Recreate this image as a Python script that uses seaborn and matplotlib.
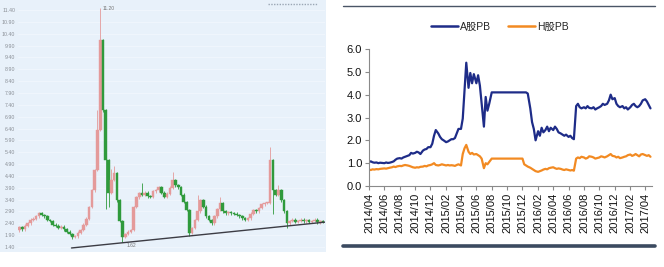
import numpy as np
import pandas as pd
import matplotlib
matplotlib.use("Agg")
import matplotlib.pyplot as plt
from matplotlib.lines import Line2D
from matplotlib.patches import Rectangle
import seaborn as sns

# ---------------- data: left candlestick panel ----------------
closes = [2.24, 2.15, 2.30, 2.40, 2.55, 2.60, 2.70, 2.83,
          2.75, 2.70, 2.54, 2.50, 2.35, 2.30, 2.20,
          2.25, 2.15, 2.05, 1.95, 1.82,
          1.85, 2.00, 2.12, 2.35, 2.60,
          3.09, 3.80, 4.65, 6.34, 10.13,
          7.18, 5.07, 3.68, 4.23, 4.52, 3.38, 2.50, 1.82,
          1.95, 2.05, 2.12, 3.09, 3.50, 3.68,
          3.60, 3.70, 3.55, 3.51, 3.75, 3.80, 3.93,
          3.70, 3.51, 3.65, 3.90, 4.23,
          4.00, 3.93, 3.60, 3.30, 2.96, 1.99,
          2.20, 2.54, 2.90, 3.38,
          3.10, 2.70, 2.54, 2.41,
          2.70, 3.00, 3.26, 2.90, 2.83,
          2.85, 2.83, 2.80, 2.75, 2.70, 2.62, 2.55, 2.62,
          2.80, 2.96, 2.90, 3.05, 3.20, 3.26, 3.26,
          5.07, 3.81, 3.60, 3.81, 3.38, 2.90, 2.41,
          2.50, 2.55, 2.46, 2.50, 2.55, 2.48, 2.52, 2.46, 2.50, 2.55, 2.45, 2.50, 2.46]
first_open = 2.10
wick_hi = {29: 11.49, 28: 7.2, 33: 4.7, 34: 4.8, 44: 4.1, 55: 4.55, 64: 3.6, 72: 3.5, 90: 5.62, 93: 4.0}
wick_lo = {19: 1.72, 31: 3.0, 32: 3.1, 37: 1.60, 61: 1.85, 91: 2.8, 96: 2.20}
left_ticks = [1.40 + 0.5 * k for k in range(21)]
trend_x = [18.7, 109.7]
trend_y = [1.36, 2.45]
peak_label = "11.20"
low_label = "1.62"

# ---------------- data: right PB panel ----------------
months = pd.date_range("2014-04-01", "2017-04-01", freq="MS")
days = [1, 8, 15, 22]
a_pb = [1.05, 1.08, 1.04, 1.02, 1.03, 1.00, 1.02, 1.01, 1.00, 1.03, 1.01, 1.02,
        1.05, 1.08, 1.15, 1.20, 1.22, 1.20, 1.25, 1.28, 1.32, 1.35, 1.45, 1.42,
        1.45, 1.50, 1.47, 1.40, 1.55, 1.60, 1.62, 1.70, 1.70, 1.85, 2.20, 2.45,
        2.30, 2.15, 2.05, 2.00, 1.92, 1.95, 2.00, 2.05, 2.05, 2.10, 2.30, 2.50,
        2.50, 2.95, 4.20, 5.40, 4.30, 4.95, 4.50, 4.90, 4.50, 4.85, 4.40, 3.60,
        2.60, 3.90, 3.30, 3.60, 4.10, 4.10, 4.10, 4.10, 4.10, 4.10, 4.10, 4.10,
        4.10, 4.10, 4.10, 4.10, 4.10, 4.10, 4.10, 4.10, 4.10, 4.10, 4.10, 4.05,
        3.40, 2.80, 2.50, 2.00, 2.40, 2.20, 2.55, 2.35, 2.45, 2.60, 2.40, 2.55,
        2.45, 2.60, 2.50, 2.35, 2.30, 2.25, 2.20, 2.25, 2.15, 2.20, 2.10, 2.05,
        3.50, 3.60, 3.45, 3.40, 3.45, 3.40, 3.50, 3.42, 3.40, 3.45, 3.35, 3.40,
        3.45, 3.50, 3.60, 3.55, 3.60, 3.75, 4.00, 3.80, 3.85, 3.60, 3.50, 3.45,
        3.50, 3.40, 3.45, 3.35, 3.45, 3.55, 3.60, 3.50, 3.45, 3.50, 3.60, 3.75,
        3.80, 3.70, 3.55, 3.40]
h_pb = [0.72, 0.70, 0.73, 0.72, 0.74, 0.73, 0.75, 0.76, 0.77, 0.76, 0.78, 0.80,
        0.82, 0.85, 0.83, 0.86, 0.88, 0.87, 0.90, 0.92, 0.90, 0.88, 0.85, 0.82,
        0.80, 0.82, 0.81, 0.84, 0.85, 0.88, 0.86, 0.90, 0.92, 0.95, 1.00, 0.92,
        0.90, 0.92, 0.95, 0.93, 0.90, 0.92, 0.90, 0.91, 0.90, 0.88, 0.92, 0.95,
        0.90, 1.40, 1.65, 1.80, 1.50, 1.40, 1.45, 1.38, 1.40, 1.35, 1.30, 1.20,
        0.78, 1.00, 0.95, 1.05, 1.20, 1.20, 1.20, 1.20, 1.20, 1.20, 1.20, 1.20,
        1.20, 1.20, 1.20, 1.20, 1.20, 1.20, 1.20, 1.20, 1.20, 0.95, 0.90, 0.85,
        0.80, 0.75, 0.70, 0.65, 0.62, 0.65, 0.68, 0.72, 0.75, 0.73, 0.78, 0.80,
        0.82, 0.78, 0.75, 0.77, 0.75, 0.72, 0.70, 0.73, 0.70, 0.68, 0.70, 0.67,
        1.20, 1.25, 1.22, 1.28, 1.25, 1.20, 1.23, 1.30, 1.28, 1.25, 1.20, 1.22,
        1.25, 1.30, 1.28, 1.25, 1.30, 1.35, 1.40, 1.32, 1.30, 1.25, 1.28, 1.22,
        1.25, 1.28, 1.30, 1.35, 1.38, 1.32, 1.35, 1.40, 1.35, 1.30, 1.38, 1.40,
        1.35, 1.32, 1.35, 1.28]
series_names = ["A股PB", "H股PB"]
yticks_r = [0.0, 1.0, 2.0, 3.0, 4.0, 5.0, 6.0]

# ---------------- figure ----------------
sns.set_theme(style="white")
plt.rcParams["font.family"] = ["Liberation Sans", "Noto Sans CJK SC", "DejaVu Sans"]

W, H = 664, 267
fig = plt.figure(figsize=(W / 100, H / 100), dpi=100)
fig.patch.set_facecolor("white")

def px_axes(x0, y0, x1, y1, **kw):
    return fig.add_axes([x0 / W, 1 - y1 / H, (x1 - x0) / W, (y1 - y0) / H], **kw)

# left panel background
fig.add_artist(Rectangle((0, 1 - 252 / H), 326 / W, 252 / H, transform=fig.transFigure,
                         facecolor="#e8f1fa", edgecolor="none", zorder=0))
fig.add_artist(Line2D([268 / W, 318 / W], [1 - 3.5 / H, 1 - 3.5 / H], transform=fig.transFigure,
                      color="#9aa6b4", lw=1.0, ls=(0, (1, 1))))

axL = px_axes(18, 3, 325, 252)
axL.set_facecolor("none")
n = len(closes)
opens = [first_open] + closes[:-1]
idx = np.arange(n)
bottoms = [min(o, c) for o, c in zip(opens, closes)]
heights = [max(abs(c - o), 0.04) for o, c in zip(opens, closes)]
colors = ["#e49a9a" if c >= o else "#2f9a3c" for o, c in zip(opens, closes)]
for i in range(n):
    hi = wick_hi.get(i, max(opens[i], closes[i]) + 0.06)
    lo = wick_lo.get(i, min(opens[i], closes[i]) - 0.06)
    axL.vlines(i, lo, hi, color=colors[i], lw=0.6, zorder=2)
axL.bar(idx, heights, bottom=bottoms, width=0.95, color=colors, edgecolor=colors, lw=0.3, zorder=3)
axL.plot(trend_x, trend_y, color="#3c3c44", lw=1.0, zorder=4)
axL.set_xlim(-0.5, n - 0.3)
axL.set_ylim(1.19, 11.70)
axL.set_yticks(left_ticks)
axL.set_yticklabels([f"{v:.2f}" for v in left_ticks], fontsize=3.8, color="#8a8f96")
axL.tick_params(axis="y", length=0, pad=2)
axL.set_xticks([])
for v in left_ticks:
    axL.axhline(v, color="#f3f8fd", lw=0.5, zorder=1)
for s in axL.spines.values():
    s.set_visible(False)
axL.text(30, 11.45, peak_label, fontsize=3.6, color="#777", va="center")
axL.text(38.5, 1.48, low_label, fontsize=3.6, color="#777", va="center")

# right panel frame lines
fig.add_artist(Line2D([343 / W, 655 / W], [1 - 5.5 / H, 1 - 5.5 / H], transform=fig.transFigure,
                      color="#4a5566", lw=1.0))
fig.add_artist(Line2D([343 / W, 655 / W], [1 - 246 / H, 1 - 246 / H], transform=fig.transFigure,
                      color="#3b4a60", lw=2.6))

dates = [pd.Timestamp(m.year, m.month, d) for m in months for d in days]
df = pd.DataFrame({"date": dates * 2, "PB": a_pb + h_pb,
                   "series": [series_names[0]] * len(dates) + [series_names[1]] * len(dates)})

axR = px_axes(369, 49, 652, 186)
sns.lineplot(data=df, x="date", y="PB", hue="series", palette=["#1e2c88", "#f28a22"],
             linewidth=1.6, ax=axR, legend=False)
axR.set_xlim(pd.Timestamp("2014-04-01"), pd.Timestamp("2017-04-28"))
axR.set_ylim(0, 6)
axR.set_yticks(yticks_r)
axR.set_yticklabels([f"{v:.1f}" for v in yticks_r], fontsize=8, color="#111")
tick_dates = pd.date_range("2014-04-01", "2017-04-01", freq="2MS")
axR.set_xticks(tick_dates)
axR.set_xticklabels([d.strftime("%Y/%m") for d in tick_dates], rotation=90, fontsize=8, color="#111")
axR.set_xlabel("")
axR.set_ylabel("")
for s in ["top", "right"]:
    axR.spines[s].set_visible(False)
for s in ["left", "bottom"]:
    axR.spines[s].set_color("#8a8a8a")
    axR.spines[s].set_linewidth(0.8)
axR.tick_params(axis="both", length=3, width=0.8, color="#8a8a8a", pad=2, left=True, bottom=True)

handles = [Line2D([], [], color="#1e2c88", lw=1.8), Line2D([], [], color="#f28a22", lw=1.8)]
fig.legend(handles, series_names, loc="center", bbox_to_anchor=(500 / W, 1 - 27 / H), ncol=2,
           frameon=False, fontsize=7.5, handlelength=2.6, handletextpad=0.2, columnspacing=1.6)

fig.savefig("out.png", dpi=100)
